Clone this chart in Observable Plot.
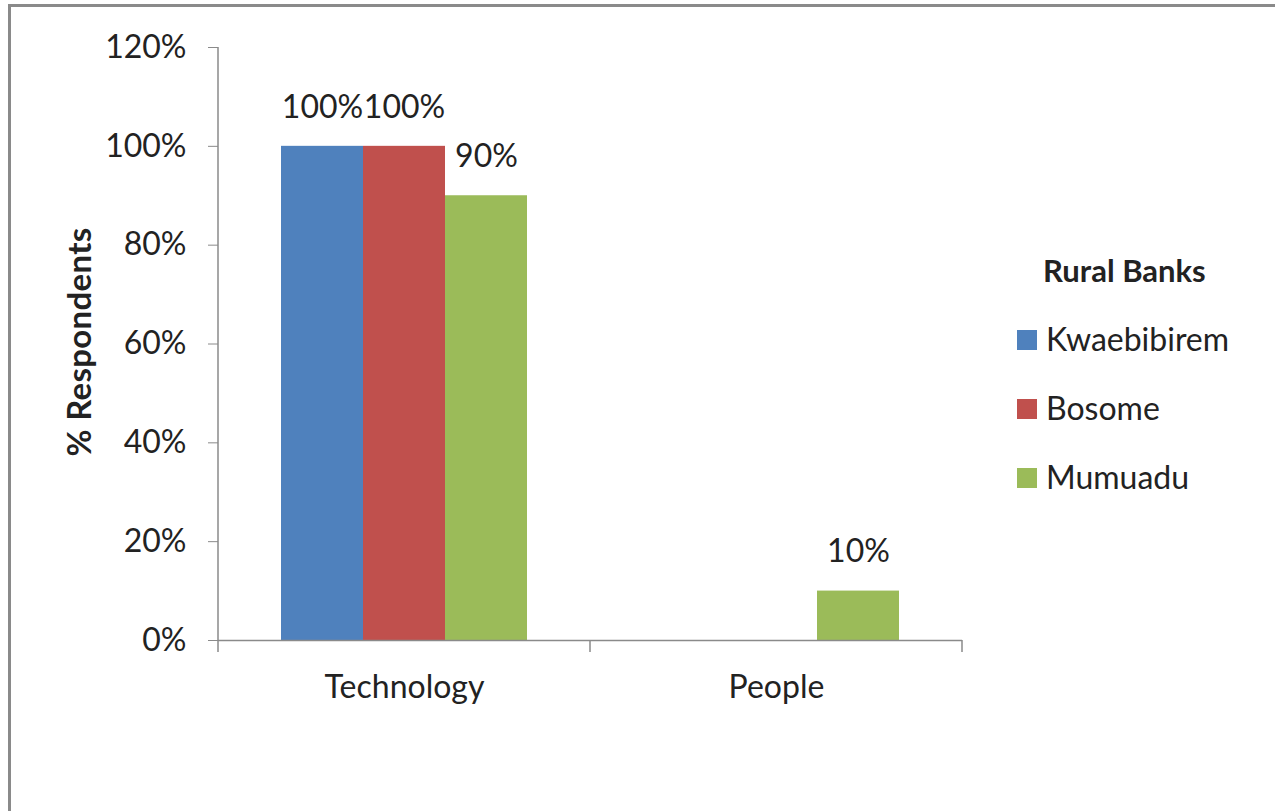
<!DOCTYPE html>
<html>
<head>
<meta charset="utf-8">
<script src="https://cdn.jsdelivr.net/npm/d3@7"></script>
<script src="https://cdn.jsdelivr.net/npm/@observablehq/plot@0.6"></script>
<style>
  html, body { margin: 0; padding: 0; background: #fff; }
  body { width: 1275px; height: 811px; position: relative; overflow: hidden; font-family: Lato, "Open Sans", sans-serif; color: #222; }
  #frame { position: absolute; left: 8px; top: 4px; width: 1400px; height: 900px; border-top: 3px solid #8a8a8a; border-left: 3px solid #8a8a8a; box-sizing: border-box; }
  #chart { position: absolute; left: 0; top: 0; }
  #ylabel { position: absolute; left: 78px; top: 342px; transform: translate(-50%, -50%) rotate(-90deg); font-weight: bold; font-size: 33px; white-space: nowrap; letter-spacing: 0.3px; }
  #legend { position: absolute; left: 1017px; top: 250px; }
  #legend .title { position: absolute; left: 26px; top: 0; font-weight: bold; font-size: 31px; white-space: nowrap; line-height: 40px; }
  #legend .item { position: absolute; left: 0; white-space: nowrap; font-size: 32px; line-height: 40px; height: 40px; }
  #legend .sw { position: absolute; left: 0; top: 10px; width: 20px; height: 20px; }
  #legend .lbl { position: absolute; left: 29px; top: -1px; }
</style>
</head>
<body>
<div id="frame"></div>
<div id="chart"></div>
<div id="ylabel">% Respondents</div>
<div id="legend"></div>
<script>
const categories = ["Technology", "People"];
const banks = ["Kwaebibirem", "Bosome", "Mumuadu"];
const kwaebibirem = [1.00, 0.00];
const bosome = [1.00, 0.00];
const mumuadu = [0.90, 0.10];
const yTicks = [0, 0.2, 0.4, 0.6, 0.8, 1.0, 1.2];
const legendTitle = "Rural Banks";
const colors = ["#4F81BD", "#C0504D", "#9BBB59"];

const seriesValues = [kwaebibirem, bosome, mumuadu];
const data = [];
categories.forEach((c, i) => banks.forEach((b, j) => data.push({category: c, bank: b, value: seriesValues[j][i]})));

const W = 1275, H = 811;
const mL = 218, mT = 47, mB = 171, mR = 313;
const FS = 32;

const chart = Plot.plot({
  width: W, height: H,
  marginLeft: mL, marginTop: mT, marginBottom: mB, marginRight: mR,
  style: {fontFamily: "Lato, 'Open Sans', sans-serif", fontSize: FS + "px", color: "#222", background: "transparent", overflow: "visible"},
  fx: {domain: categories, padding: 0, label: null, axis: null},
  x: {domain: banks, paddingInner: 0, paddingOuter: 0.75, axis: null},
  y: {domain: [0, 1.2], axis: null},
  color: {domain: banks, range: colors},
  marks: [
    Plot.barY(data, {fx: "category", x: "bank", y: "value", fill: "bank", inset: 0}),
    Plot.ruleY([0], {stroke: "#8a8a8a", strokeWidth: 1.5}),
    Plot.text(data.filter(d => d.value > 0), {fx: "category", x: "bank", y: "value", text: d => d3.format(".0%")(d.value), dy: -39, fill: "#222", fontSize: FS}),
    Plot.axisY({ticks: yTicks, tickFormat: d3.format(".0%"), tickSize: 10, tickPadding: 22, stroke: "#8a8a8a", fill: "#222", label: null, fontSize: FS}),
    Plot.axisFx({anchor: "bottom", tickSize: 0, tickPadding: 35, fill: "#222", label: null, fontSize: FS})
  ]
});
document.getElementById("chart").appendChild(chart);

// axis lines and category-boundary ticks derived from the scales
const svg = d3.select(chart.tagName.toLowerCase() === "svg" ? chart : chart.querySelector("svg"));
const fxS = chart.scale("fx");
const yS = chart.scale("y");
const y0 = yS.apply(0), yTop = yS.apply(1.2);
const left = fxS.apply(categories[0]);
const bounds = categories.map(c => fxS.apply(c)).concat([fxS.apply(categories[categories.length - 1]) + fxS.bandwidth]);
const g = svg.append("g").attr("stroke", "#8a8a8a").attr("stroke-width", 1.5);
g.append("line").attr("x1", left).attr("x2", left).attr("y1", yTop).attr("y2", y0);
bounds.forEach(x => g.append("line").attr("x1", x).attr("x2", x).attr("y1", y0).attr("y2", y0 + 12));

// legend
const leg = d3.select("#legend");
leg.append("div").attr("class", "title").text(legendTitle);
banks.forEach((b, i) => {
  const it = leg.append("div").attr("class", "item").style("top", (70 + i * 69) + "px");
  it.append("div").attr("class", "sw").style("background", colors[i]);
  it.append("div").attr("class", "lbl").text(b);
});
</script>
</body>
</html>
